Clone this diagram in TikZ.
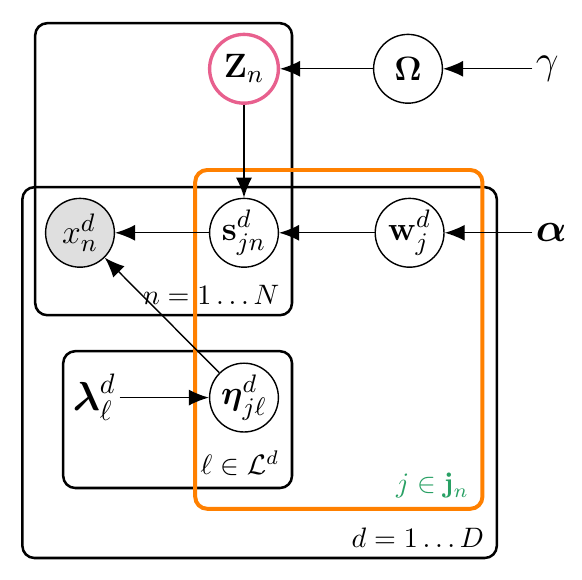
\documentclass[tikz,border=0pt]{standalone}
\usepackage{amsmath,amssymb}
\usetikzlibrary{arrows.meta}
\definecolor{zpink}{RGB}{232,96,142}
\definecolor{jorange}{RGB}{255,128,0}
\definecolor{jgreen}{RGB}{40,160,100}
\tikzset{
  latent/.style={draw, circle, fill=white, minimum size=8.6mm, inner sep=0pt, font=\fontsize{13}{15}\selectfont},
  obs/.style={latent, fill=gray!25},
  const/.style={inner sep=1pt, font=\fontsize{14}{16}\selectfont},
  plate/.style={draw, line width=0.9pt, rounded corners=1.5mm},
  platelabel/.style={anchor=base east, inner sep=0pt},
}
\begin{document}
\begin{tikzpicture}[>={Latex[length=2.5mm,width=2mm]}, line width=0.5pt]
  \useasboundingbox (0,0) rectangle (7.275,7.25);
  % plates
  \draw[plate] (0.28,0.275) rectangle (6.21,4.91);
  \draw[plate] (0.44,3.31) rectangle (3.65,6.96);
  \draw[plate] (0.79,1.15) rectangle (3.65,2.86);
  \draw[plate, draw=jorange, line width=1.4pt] (2.44,0.89) rectangle (6.03,5.125);
  \node[platelabel] (nlab) at (3.50,3.44) {$n = 1 \ldots N$};
  \node[platelabel] (llab) at (3.50,1.32) {$\ell \in \mathcal{L}^d$};
  \node[platelabel, text=jgreen] (jlab) at (5.87,1.09) {$j \in \mathbf{j}_n$};
  \node[platelabel] (dlab) at (6.06,0.41) {$d = 1 \ldots D$};
  % nodes
  \node[latent, draw=zpink, line width=1.2pt] (Z) at (3.05,6.39) {$\mathbf{Z}_n$};
  \node[latent] (Omega) at (5.10,6.39) {$\boldsymbol{\Omega}$};
  \node[const] (gamma) at (6.84,6.39) {$\gamma$};
  \node[obs] (x) at (1.00,4.34) {$x^d_n$};
  \node[latent] (s) at (3.05,4.34) {$\mathbf{s}^d_{jn}$};
  \node[latent] (w) at (5.12,4.34) {$\mathbf{w}^d_j$};
  \node[const] (alpha) at (6.89,4.34) {$\boldsymbol{\alpha}$};
  \node[const] (lambda) at (1.18,2.28) {$\boldsymbol{\lambda}^d_\ell$};
  \node[latent] (eta) at (3.05,2.28) {$\boldsymbol{\eta}^d_{j\ell}$};
  % edges
  \draw[->] (gamma) -- (Omega);
  \draw[->] (Omega) -- (Z);
  \draw[->] (Z) -- (s);
  \draw[->] (alpha) -- (w);
  \draw[->] (w) -- (s);
  \draw[->] (s) -- (x);
  \draw[->] (lambda) -- (eta);
  \draw[->] (eta) -- (x);
\end{tikzpicture}
\end{document}
